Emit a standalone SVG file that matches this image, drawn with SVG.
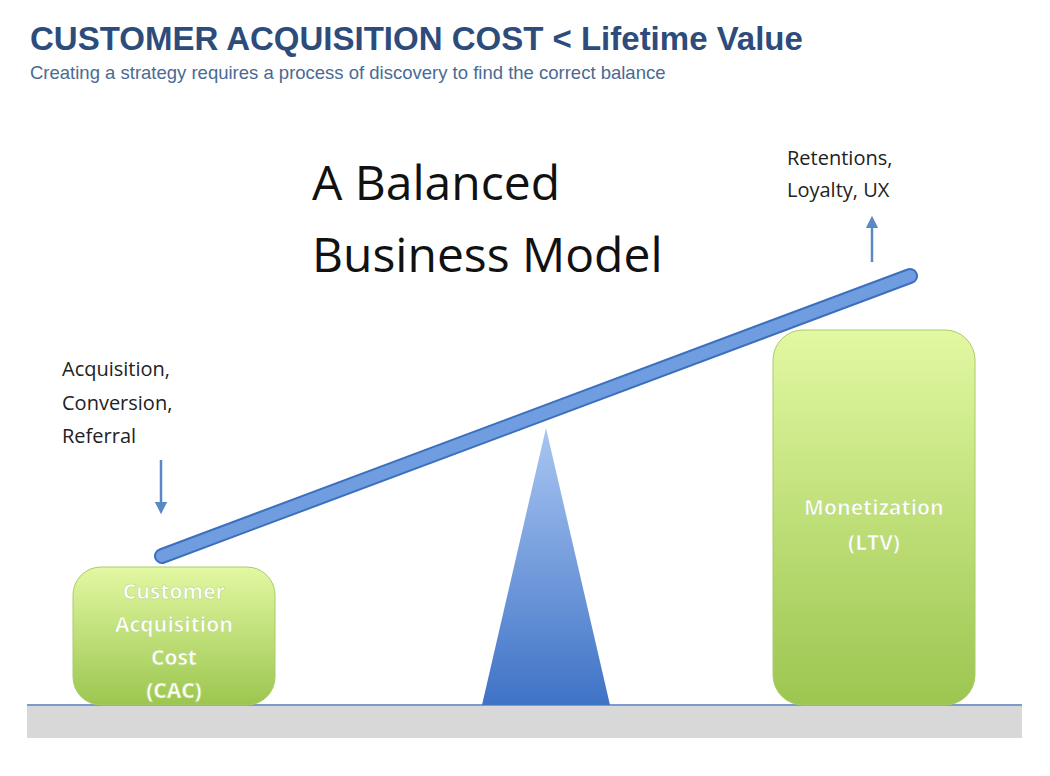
<svg xmlns="http://www.w3.org/2000/svg" width="1050" height="776" viewBox="0 0 1050 776">
<defs>
<linearGradient id="g" x1="0" y1="0" x2="0" y2="1"><stop offset="0" stop-color="#e2f8a2"/><stop offset="1" stop-color="#9cc650"/></linearGradient>
<linearGradient id="t" x1="0" y1="0" x2="0" y2="1"><stop offset="0" stop-color="#a9c6f2"/><stop offset="1" stop-color="#3f73c6"/></linearGradient>
<marker id="a" viewBox="0 0 10 10" refX="5" refY="5" markerWidth="5" markerHeight="5" orient="auto-start-reverse"><path d="M0,0 L10,5 L0,10 z" fill="#5a88c4"/></marker>
<style>
.lbl{font-family:"Open Sans","Liberation Sans",sans-serif;font-size:20px;fill:#222}
.box{font-family:"Open Sans","Liberation Sans",sans-serif;font-size:21px;font-weight:bold;fill:#fff;text-anchor:middle;stroke:#b8d77a;stroke-width:0.6}
</style>
</defs>
<rect width="1050" height="776" fill="#fff"/>
<text x="30" y="50" font-family="Liberation Sans,sans-serif" font-weight="bold" font-size="33" fill="#2d4c7c">CUSTOMER ACQUISITION COST &lt; Lifetime Value</text>
<text x="30" y="79" font-family="Liberation Sans,sans-serif" font-size="18.5" fill="#4a6a93">Creating a strategy requires a process of discovery to find the correct balance</text>
<g id="title"><text x="312" y="200" font-family="Open Sans,Liberation Sans,sans-serif" font-size="48" fill="#111">A Balanced</text>
<text x="312" y="272" font-family="Open Sans,Liberation Sans,sans-serif" font-size="48" fill="#111">Business Model</text></g>
<g id="ground"><rect x="27" y="705" width="995" height="33" fill="#d8d8d8"/><line x1="27" y1="705" x2="1022" y2="705" stroke="#7a9ccc" stroke-width="2"/></g>
<g id="fulcrum"><polygon points="546,428 482,705 610,705" fill="url(#t)"/></g>
<g id="cac"><rect x="73" y="567" width="202" height="138" rx="28" fill="url(#g)" stroke="#a8cc6a"/>
<text class="box" x="174" y="599">Customer</text><text class="box" x="174" y="632">Acquisition</text><text class="box" x="174" y="665">Cost</text><text class="box" x="174" y="698">(CAC)</text></g>
<g id="ltv"><rect x="773" y="330" width="202" height="375" rx="30" fill="url(#g)" stroke="#a8cc6a"/>
<text class="box" x="874" y="515">Monetization</text><text class="box" x="874" y="550">(LTV)</text></g>
<g id="beam"><line x1="162" y1="556" x2="910" y2="276" stroke="#3d6fbf" stroke-width="16" stroke-linecap="round"/><line x1="162" y1="556" x2="910" y2="276" stroke="#6f9de0" stroke-width="12" stroke-linecap="round"/></g>
<g id="left-label"><text class="lbl" x="62" y="376">Acquisition,</text><text class="lbl" x="62" y="410">Conversion,</text><text class="lbl" x="62" y="443">Referral</text></g>
<g id="right-label"><text class="lbl" x="787" y="165">Retentions,</text><text class="lbl" x="787" y="197">Loyalty, UX</text></g>
<g id="connectors" stroke="#5a88c4" stroke-width="2.5" fill="none">
<line x1="161" y1="460" x2="161" y2="508" marker-end="url(#a)"/>
<line x1="872" y1="262" x2="872" y2="222" marker-end="url(#a)"/>
</g>
</svg>
